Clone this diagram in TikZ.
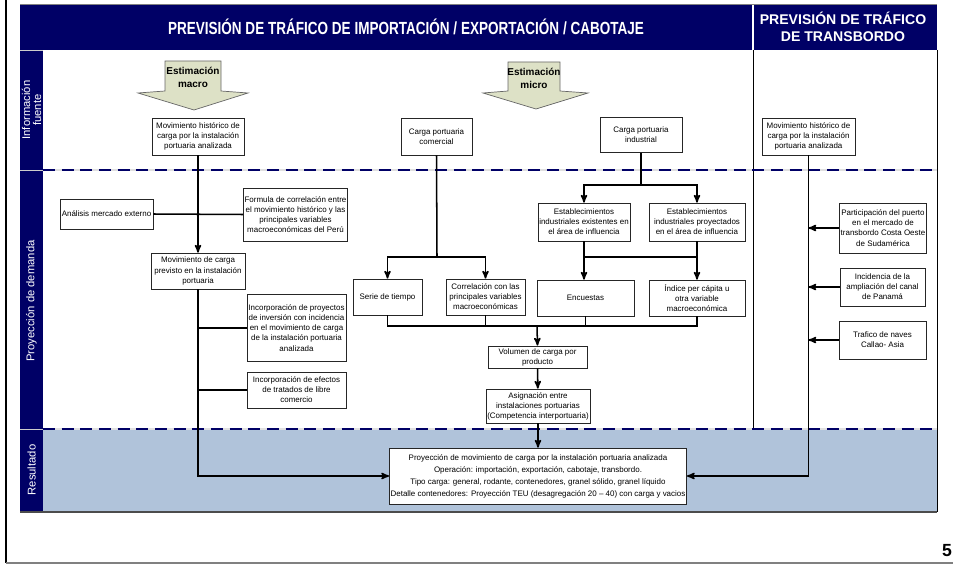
\documentclass[tikz,border=0pt]{standalone}
\usepackage{fontspec}
\setmainfont{Liberation Sans}
\usetikzlibrary{arrows,positioning}
\definecolor{navy}{RGB}{0,0,102}
\definecolor{resblue}{RGB}{176,195,218}
\definecolor{khaki}{RGB}{221,225,198}
\newcommand{\boxfont}{\fontsize{6.8}{8.6}\selectfont}
\tikzset{box/.style={draw=black!85,fill=white,line width=0.6pt,font=\boxfont,align=center,inner sep=1pt},
}

\begin{document}
\begin{tikzpicture}[x=0.03cm,y=-0.03cm,>=stealth',
		flow/.style={->,line width=1.3pt},
		link/.style={line width=1.3pt},
		estim/.style={fill=khaki,draw=black!60,line width=0.6pt},
		lane/.style={white,font=\fontsize{9.6}{9.4}\selectfont,rotate=90,align=center}]
		
		\useasboundingbox (0,0) rectangle (953,564);
		
		% marco
		\draw[line width=2pt] (6,0) -- (6,563);
		\draw[gray,line width=1pt] (6,563) -- (953,563);
		\fill[navy] (20,5) rectangle (937,50);
		\fill[navy] (20,50) rectangle (43,512);
		\fill[resblue] (43,429) rectangle (937,512);
		\draw[gray,line width=0.8pt] (20,4.5) -- (937,4.5);
		\draw[white,line width=1pt] (753,5) -- (753,50);
		\draw[gray!40,line width=0.6pt] (20,50) -- (43,50);
		\draw[line width=0.8pt] (937,50) -- (937,512);
		\draw[line width=0.6pt] (753,50) -- (753,429);
		\draw[black!70,line width=1.5pt] (20,512) -- (937,512);
		\foreach \y in {170,429} {
			\draw[gray!25,line width=1.5pt] (43,\y) -- (937,\y);
			\draw[navy,line width=1.2pt,dash pattern=on 0.36cm off 0.2cm] (43,\y) -- (937,\y);
			\draw[gray!40,line width=0.6pt] (20,\y) -- (43,\y);
		}
		
		% titulos
		\node[white,font=\bfseries\fontsize{15}{18}\selectfont,xscale=0.77] (titimp) at (406,27) {PREVISIÓN DE TRÁFICO DE IMPORTACIÓN / EXPORTACIÓN / CABOTAJE};
		\node[white,font=\bfseries\fontsize{12}{14.5}\selectfont,align=center] (tittrans) at (843,27) {PREVISIÓN DE TRÁFICO\\DE TRANSBORDO};
		\node[lane] (lfuente) at (31.5,110) {Información\\fuente};
		\node[lane] (ldemanda) at (31.5,301) {Proyección de demanda};
		\node[lane] (lresultado) at (31.5,470) {Resultado};
		
		% estimaciones
		\filldraw[estim] (165,61) -- (221,61) -- (221,91) -- (248,93) -- (194,110) -- (138,93) -- (165,91) -- cycle;
		\node[font=\bfseries\fontsize{8.5}{11}\selectfont,align=center] (macro) at (193,77) {Estimación\\macro};
		\filldraw[estim] (508,62) -- (560,62) -- (560,91) -- (588,93) -- (536,109) -- (483,93) -- (508,91) -- cycle;
		\node[font=\bfseries\fontsize{8.5}{11}\selectfont,align=center] (micro) at (534,78) {Estimación\\micro};
		
		% informacion fuente
		\node[box,minimum width=2.76cm,minimum height=1.11cm] (histmacro) at (198,136.5) {Movimiento histórico de\\carga por la instalación\\portuaria analizada};
		\node[box,minimum width=2.13cm,minimum height=1.11cm] (comercial) at (436.5,136.5) {Carga portuaria\\comercial};
		\node[box,minimum width=2.46cm,minimum height=1.05cm] (industrial) at (641,135) {Carga portuaria\\industrial};
		\node[box,minimum width=2.79cm,minimum height=1.11cm] (histtrans) at (808.5,136.5) {Movimiento histórico de\\carga por la instalación\\portuaria analizada};
		
		% proyeccion macro
		\node[box,minimum width=2.79cm,minimum height=0.9cm] (mercado) at (106.5,214) {Análisis mercado externo};
		\node[box,minimum width=3.03cm,minimum height=1.59cm] (formula) at (295.5,214.5) {Formula de correlación entre\\el movimiento histórico y las\\principales variables\\macroeconómicas del Perú};
		\node[box,minimum width=2.82cm,minimum height=1.08cm] (previsto) at (198,271) {Movimiento de carga\\previsto en la instalación\\portuaria};
		\node[box,minimum width=2.97cm,minimum height=2.01cm] (proyectos) at (296.5,328) {Incorporación de proyectos\\de inversión con incidencia\\en el movimiento de carga\\de la instalación portuaria\\analizada};
		\node[box,minimum width=2.97cm,minimum height=1.08cm] (tratados) at (296.5,390) {Incorporación de efectos\\de tratados de libre\\comercio};
		
		% proyeccion micro
		\node[box,minimum width=2.07cm,minimum height=1.08cm] (serie) at (387.5,297) {Serie de tiempo};
		\node[box,minimum width=2.37cm,minimum height=1.08cm] (correl) at (485.5,297) {Correlación con las\\principales variables\\macroeconómicas};
		\node[box,minimum width=2.76cm,minimum height=1.14cm] (existentes) at (584,222) {Establecimientos\\industriales existentes en\\el área de influencia};
		\node[box,minimum width=2.88cm,minimum height=1.14cm] (proyectados) at (697,222) {Establecimientos\\industriales proyectados\\en el área de influencia};
		\node[box,minimum width=2.91cm,minimum height=1.08cm] (encuestas) at (585.5,298) {Encuestas};
		\node[box,minimum width=2.88cm,minimum height=1.08cm] (indice) at (697,298) {Índice per cápita u\\otra variable\\macroeconómica};
		\node[box,minimum width=2.97cm,minimum height=0.66cm] (volumen) at (537.5,357) {Volumen de carga por\\producto};
		\node[box,minimum width=3cm,minimum height=1.02cm] (asignacion) at (538,406) {Asignación entre\\instalaciones portuarias\\(Competencia interportuaria)};
		
		% transbordo
		\node[box,minimum width=2.52cm,minimum height=1.5cm] (participacion) at (883,228) {Participación del puerto\\en el mercado de\\transbordo Costa Oeste\\de Sudamérica};
		\node[box,minimum width=2.55cm,minimum height=1.14cm] (canal) at (882.5,287) {Incidencia de la\\ampliación del canal\\de Panamá};
		\node[box,minimum width=2.61cm,minimum height=1.14cm] (naves) at (882.5,340) {Trafico de naves\\Callao- Asia};
		
		% resultado
		\node[box,font=\fontsize{6.8}{10.2}\selectfont,minimum width=8.7cm,minimum height=1.68cm] (resultado) at (538,476) {Proyección de movimiento de carga por la instalación portuaria analizada\\Operación: importación, exportación, cabotaje, transbordo.\\Tipo carga: general, rodante, contenedores, granel sólido, granel líquido\\Detalle contenedores: Proyección TEU (desagregación 20 -- 40) con carga y vacios};
		
		\coordinate (cbus) at (437,257);
		\coordinate (ibus) at (641,185);
		\coordinate (ebus) at (641,257);
		\coordinate (obus) at (537,326);
		
		% conectores macro
		\draw[flow] (histmacro) -- (previsto);
		\draw[link] (mercado.east) -- (formula.west);
		\draw[flow] (previsto.south) |- (resultado.west);
		\draw[link] (proyectos.west) -- (proyectos.west -| previsto.south);
		\draw[link] (tratados.west) -- (tratados.west -| previsto.south);
		
		% conectores micro
		\draw[link] (comercial.south) -- (cbus);
		\draw[flow] (cbus) -| (serie.north);
		\draw[flow] (cbus) -| (correl.north);
		\draw[link] (industrial.south) -- (ibus);
		\draw[flow] (ibus) -| (existentes.north);
		\draw[flow] (ibus) -| (proyectados.north);
		\draw[flow] (existentes.south) -- (existentes.south |- encuestas.north);
		\draw[flow] (proyectados.south) -- (indice.north);
		\draw[link] (existentes.south |- ebus) -- (proyectados.south |- ebus);
		\draw[link] (serie.south) -- (serie.south |- obus) -- (indice.south |- obus) -- (indice.south);
		\draw[link] (correl.south) -- (correl.south |- obus);
		\draw[link] (encuestas.south) -- (encuestas.south |- obus);
		\draw[flow] (obus) -- (volumen.north);
		\draw[flow] (volumen) -- (asignacion);
		\draw[flow] (asignacion) -- (resultado);
		
		% conectores transbordo
		\draw[flow] (histtrans.south) |- (resultado.east);
		\foreach \n in {participacion,canal,naves}
		\draw[flow] (\n.west) -- (\n.west -| histtrans.south);
		
		\node[font=\bfseries\fontsize{15}{15}\selectfont,anchor=base west,inner sep=0pt] (pagina) at (942,556) {5};
		
	\end{tikzpicture}
\end{document}
